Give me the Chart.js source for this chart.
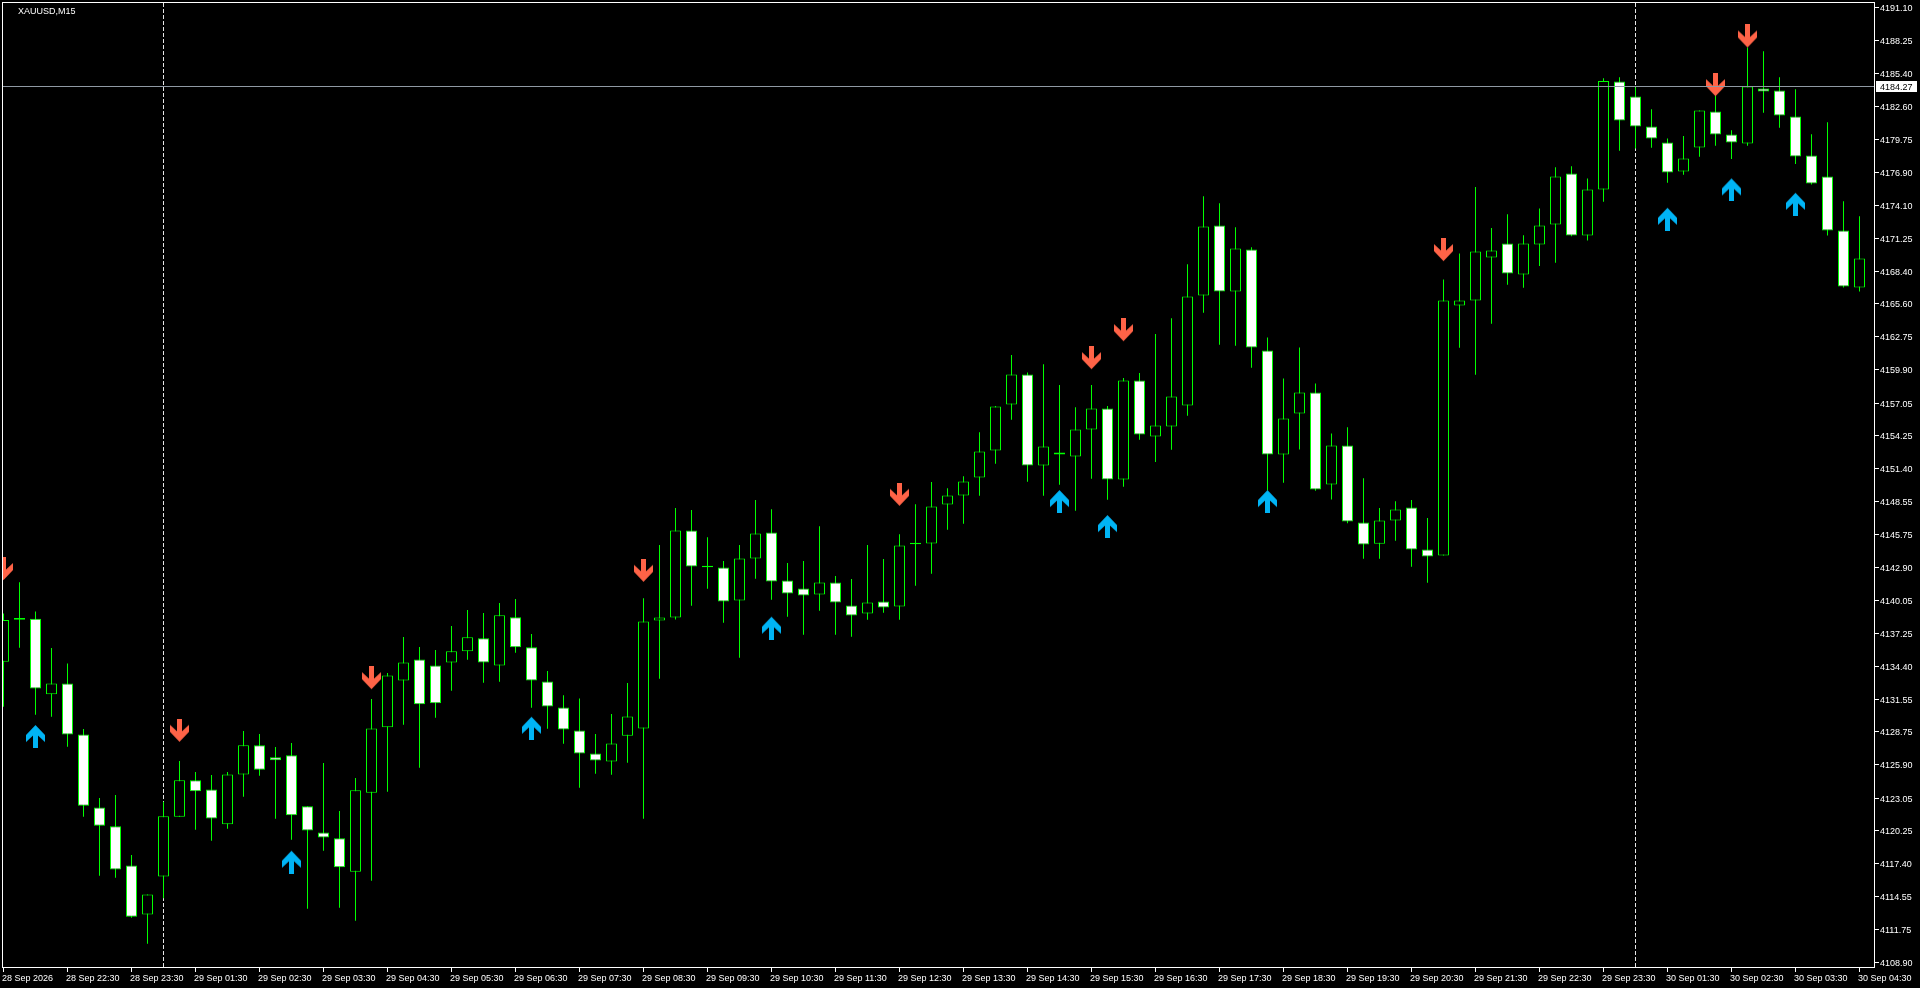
<!DOCTYPE html>
<html>
<head>
<meta charset="utf-8">
<title>XAUUSD,M15</title>
<script src="https://cdn.jsdelivr.net/npm/chart.js@4.4.1/dist/chart.umd.min.js"></script>
<style>
html, body { margin: 0; padding: 0; background: #000; overflow: hidden; }
canvas { display: block; }
</style>
</head>
<body>
<canvas id="chart" width="1920" height="988"></canvas>
<script>
// XAUUSD M15, candles (index 0 = leftmost, partly hidden)
const symbolTitle = "XAUUSD,M15";

const opens = [
  4134.79, 4138.40, 4138.49, 4131.98, 4132.92, 4128.53, 4122.25, 4120.62, 4117.26, 4113.04,
  4116.31, 4121.45, 4124.58, 4123.80, 4120.79, 4125.09, 4127.59, 4126.56, 4126.73, 4122.34,
  4120.10, 4119.59, 4116.72, 4123.52, 4129.14, 4133.18, 4134.99, 4134.47, 4134.73, 4135.68,
  4136.80, 4134.47, 4138.61, 4136.03, 4133.09, 4130.85, 4128.87, 4126.89, 4126.21, 4128.41,
  4129.05, 4138.34, 4138.60, 4146.09, 4143.05, 4142.90, 4140.06, 4143.68, 4145.92, 4141.78,
  4141.10, 4140.58, 4141.61, 4139.63, 4138.94, 4139.98, 4139.55, 4144.90, 4144.97, 4148.33,
  4149.10, 4150.65, 4152.97, 4156.93, 4159.52, 4151.68, 4152.80, 4152.46, 4154.78, 4156.59,
  4150.48, 4159.00, 4154.18, 4155.04, 4156.85, 4166.31, 4172.34, 4166.66, 4170.27, 4161.58,
  4152.63, 4156.16, 4157.96, 4150.05, 4153.40, 4146.77, 4144.94, 4146.94, 4148.06, 4144.45,
  4143.93, 4165.45, 4165.88, 4169.58, 4170.79, 4168.12, 4170.70, 4172.42, 4176.81, 4171.48,
  4175.43, 4184.73, 4183.44, 4180.86, 4179.48, 4176.98, 4179.05, 4182.15, 4180.17, 4179.39,
  4184.13, 4183.96, 4181.72, 4178.36, 4176.55, 4171.91, 4167.00
];
const highs = [
  4138.95, 4141.62, 4139.12, 4135.96, 4134.64, 4129.00, 4123.05, 4123.31, 4118.15, 4114.76,
  4122.74, 4126.24, 4125.29, 4125.03, 4125.29, 4128.82, 4128.56, 4127.45, 4127.79, 4122.34,
  4126.07, 4121.94, 4124.78, 4131.58, 4133.82, 4136.91, 4136.05, 4135.79, 4137.86, 4139.24,
  4138.98, 4139.84, 4140.18, 4137.17, 4133.98, 4131.91, 4131.63, 4128.56, 4130.28, 4132.95,
  4140.26, 4144.83, 4148.01, 4147.84, 4145.51, 4143.45, 4144.83, 4148.70, 4147.92, 4143.28,
  4143.45, 4146.46, 4142.16, 4141.90, 4144.83, 4143.62, 4145.77, 4148.35, 4150.25, 4149.73,
  4150.76, 4154.55, 4156.80, 4161.18, 4159.69, 4160.40, 4158.60, 4156.70, 4158.60, 4156.79,
  4159.20, 4159.63, 4162.99, 4164.36, 4169.01, 4174.86, 4174.26, 4172.19, 4170.47, 4162.70,
  4159.17, 4161.84, 4158.74, 4154.44, 4154.98, 4150.59, 4148.01, 4148.61, 4148.70, 4147.15,
  4167.69, 4169.93, 4175.64, 4172.11, 4173.31, 4171.50, 4173.80, 4177.36, 4177.44, 4176.38,
  4185.02, 4185.10, 4184.24, 4182.35, 4179.83, 4180.03, 4182.23, 4183.55, 4180.54, 4187.66,
  4187.34, 4185.10, 4184.07, 4180.20, 4181.23, 4174.43, 4173.14
];
const lows = [
  4130.92, 4135.99, 4130.23, 4130.05, 4127.47, 4121.45, 4116.37, 4116.20, 4112.75, 4110.52,
  4114.42, 4121.45, 4120.33, 4119.38, 4120.42, 4123.17, 4124.98, 4121.28, 4119.47, 4113.53,
  4118.52, 4113.62, 4112.50, 4115.94, 4123.60, 4129.37, 4125.67, 4129.97, 4132.29, 4134.96,
  4132.98, 4133.07, 4135.57, 4130.83, 4129.02, 4127.73, 4123.94, 4125.14, 4125.06, 4126.09,
  4121.27, 4133.32, 4138.43, 4139.60, 4141.07, 4138.14, 4135.13, 4141.93, 4140.12, 4138.66,
  4137.11, 4139.17, 4137.11, 4136.94, 4138.40, 4139.00, 4138.40, 4141.33, 4142.36, 4146.15,
  4146.66, 4149.07, 4151.83, 4155.61, 4150.28, 4149.07, 4150.02, 4147.78, 4150.53, 4148.73,
  4149.85, 4153.89, 4151.98, 4153.03, 4155.96, 4164.82, 4162.07, 4161.98, 4160.09, 4149.53,
  4150.19, 4153.06, 4149.50, 4148.75, 4146.70, 4143.65, 4143.65, 4145.20, 4142.96, 4141.58,
  4143.93, 4161.81, 4159.48, 4163.87, 4167.23, 4166.97, 4168.86, 4169.12, 4171.40, 4171.04,
  4174.37, 4178.76, 4178.96, 4179.02, 4176.01, 4176.70, 4178.25, 4179.19, 4178.07, 4179.19,
  4182.03, 4180.74, 4177.64, 4175.87, 4171.48, 4167.00, 4166.66
];
const closes = [
  4138.37, 4138.55, 4132.49, 4132.92, 4128.53, 4122.39, 4120.67, 4116.91, 4112.84, 4114.76,
  4121.48, 4124.58, 4123.63, 4121.30, 4125.09, 4127.59, 4125.49, 4126.30, 4121.57, 4120.27,
  4119.67, 4117.09, 4123.72, 4129.05, 4133.61, 4134.73, 4131.12, 4131.21, 4135.68, 4136.89,
  4134.73, 4138.78, 4136.03, 4133.18, 4130.94, 4128.96, 4126.89, 4126.29, 4127.75, 4130.08,
  4138.26, 4138.60, 4146.09, 4142.99, 4142.92, 4139.98, 4143.68, 4145.83, 4141.70, 4140.67,
  4140.49, 4141.61, 4139.89, 4138.77, 4139.89, 4139.46, 4144.80, 4145.02, 4148.15, 4149.10,
  4150.31, 4152.89, 4156.76, 4159.52, 4151.68, 4153.32, 4152.63, 4154.78, 4156.59, 4150.48,
  4159.00, 4154.35, 4155.12, 4157.62, 4166.23, 4172.25, 4166.66, 4170.36, 4161.84, 4152.63,
  4155.73, 4157.96, 4149.62, 4153.40, 4146.86, 4144.88, 4146.94, 4147.89, 4144.45, 4143.85,
  4165.88, 4165.88, 4170.10, 4170.18, 4168.20, 4170.79, 4172.34, 4176.55, 4171.48, 4175.43,
  4184.78, 4181.37, 4180.86, 4179.83, 4176.90, 4178.10, 4182.23, 4180.17, 4179.48, 4184.30,
  4183.87, 4181.80, 4178.28, 4175.95, 4171.91, 4167.09, 4169.50
];

// time axis: one label every 4 bars, starting at bar 0
const timeLabels = [
  "28 Sep 2026", "28 Sep 22:30", "28 Sep 23:30", "29 Sep 01:30", "29 Sep 02:30", "29 Sep 03:30",
  "29 Sep 04:30", "29 Sep 05:30", "29 Sep 06:30", "29 Sep 07:30", "29 Sep 08:30", "29 Sep 09:30",
  "29 Sep 10:30", "29 Sep 11:30", "29 Sep 12:30", "29 Sep 13:30", "29 Sep 14:30", "29 Sep 15:30",
  "29 Sep 16:30", "29 Sep 17:30", "29 Sep 18:30", "29 Sep 19:30", "29 Sep 20:30", "29 Sep 21:30",
  "29 Sep 22:30", "29 Sep 23:30", "30 Sep 01:30", "30 Sep 02:30", "30 Sep 03:30", "30 Sep 04:30"
];
const priceTicks = [
  "4191.10", "4188.25", "4185.40", "4182.60", "4179.75", "4176.90", "4174.10", "4171.25",
  "4168.40", "4165.60", "4162.75", "4159.90", "4157.05", "4154.25", "4151.40", "4148.55",
  "4145.75", "4142.90", "4140.05", "4137.25", "4134.40", "4131.55", "4128.75", "4125.90",
  "4123.05", "4120.25", "4117.40", "4114.55", "4111.75", "4108.90"
];

// day separators (bar index of first bar of a new day)
const daySeparators = [10, 102];
const bidPrice = 4184.27;

// signal arrows: bar index and price of the arrow tip
const sellIdx = [0, 11, 23, 40, 56, 68, 70, 90, 107, 109];
const sellPrice = [4141.82, 4127.90, 4132.43, 4141.67, 4148.21, 4159.97, 4162.38, 4169.27, 4183.47, 4187.66];
const buyIdx = [2, 18, 33, 48, 66, 69, 79, 104, 108, 112];
const buyPrice = [4129.34, 4118.52, 4130.05, 4138.66, 4149.56, 4147.41, 4149.56, 4173.86, 4176.39, 4175.15];

const GREEN = '#00ff00';
const FONT = "9px 'Liberation Sans', Arial, sans-serif";

function makeArrow(color, down) {
  const c = document.createElement('canvas');
  c.width = 19;
  c.height = 46;
  const g = c.getContext('2d');
  // tip sits at the canvas centre so the point's y is the tip price
  const pts = [[7, 0], [12, 0], [12, 12.5], [19, 6], [19, 13], [9.5, 23], [0, 13], [0, 6], [7, 12.5]];
  g.fillStyle = color;
  g.beginPath();
  pts.forEach(([x, y], k) => {
    const yy = down ? y : 46 - y;
    if (k === 0) g.moveTo(x, yy); else g.lineTo(x, yy);
  });
  g.closePath();
  g.fill();
  return c;
}

const idx = opens.map((_, i) => i);
const wickData = idx.map(i => ({ x: i, y: [lows[i], highs[i]] }));
const bodyData = idx.map(i => ({ x: i, y: [opens[i], closes[i]] }));
const bodyFill = idx.map(i => closes[i] < opens[i] ? '#ffffff' : '#000000');

const mt4Plugin = {
  id: 'mt4',
  beforeDraw(chart) {
    const ctx = chart.ctx;
    ctx.save();
    ctx.fillStyle = '#000';
    ctx.fillRect(0, 0, chart.width, chart.height);
    ctx.restore();
  },
  beforeDatasetsDraw(chart) {
    const { ctx, chartArea: a, scales: { x } } = chart;
    ctx.save();
    ctx.strokeStyle = '#e6e6e6';
    ctx.lineWidth = 1;
    ctx.setLineDash([4, 2]);
    daySeparators.forEach(i => {
      const px = Math.floor(x.getPixelForValue(i)) + 0.5;
      ctx.beginPath();
      ctx.moveTo(px, a.top);
      ctx.lineTo(px, a.bottom);
      ctx.stroke();
    });
    ctx.restore();
  },
  afterDraw(chart) {
    const { ctx, chartArea: a, scales: { x, y } } = chart;
    ctx.save();

    // bid line
    const by = Math.round(y.getPixelForValue(bidPrice) - 0.5);
    ctx.fillStyle = '#8f99a3';
    ctx.fillRect(a.left, by, a.right - a.left, 1);

    // frame
    ctx.strokeStyle = '#ffffff';
    ctx.lineWidth = 1;
    ctx.strokeRect(a.left - 0.5, a.top - 0.5, a.right - a.left + 1, a.bottom - a.top + 1);

    ctx.font = FONT;
    ctx.textBaseline = 'alphabetic';
    ctx.textAlign = 'left';

    // price axis
    priceTicks.forEach(t => {
      const row = Math.round(y.getPixelForValue(parseFloat(t)) - 0.5);
      ctx.fillStyle = '#ffffff';
      ctx.fillRect(a.right + 1, row, 4, 1);
      ctx.fillText(t, a.right + 6, row + 4);
    });

    // bid label
    ctx.fillStyle = '#ffffff';
    ctx.fillRect(a.right + 2, by - 5, 41, 11);
    ctx.fillStyle = '#000000';
    ctx.fillText(bidPrice.toFixed(2), a.right + 6, by + 4);

    // time axis
    ctx.fillStyle = '#ffffff';
    timeLabels.forEach((t, k) => {
      const px = Math.floor(x.getPixelForValue(k * 4));
      ctx.fillRect(px, a.bottom + 1, 1, 4);
      ctx.fillText(t, px - 1, a.bottom + 14);
    });

    // title
    ctx.fillText(symbolTitle, 18, 14);
    ctx.restore();
  }
};

new Chart(document.getElementById('chart'), {
  type: 'bar',
  data: {
    datasets: [
      {
        type: 'scatter',
        label: 'sell',
        data: sellIdx.map((i, k) => ({ x: i, y: sellPrice[k] })),
        pointStyle: makeArrow('#ff6347', true),
        pointRadius: 10,
        order: 0
      },
      {
        type: 'scatter',
        label: 'buy',
        data: buyIdx.map((i, k) => ({ x: i, y: buyPrice[k] })),
        pointStyle: makeArrow('#00b4f5', false),
        pointRadius: 10,
        order: 0
      },
      {
        label: 'body',
        data: bodyData,
        backgroundColor: bodyFill,
        borderColor: GREEN,
        borderWidth: 1,
        borderSkipped: false,
        barThickness: 11,
        grouped: false,
        inflateAmount: 0,
        order: 1
      },
      {
        label: 'wick',
        data: wickData,
        backgroundColor: GREEN,
        borderWidth: 0,
        barThickness: 1,
        grouped: false,
        inflateAmount: 0,
        order: 2
      }
    ]
  },
  options: {
    responsive: false,
    maintainAspectRatio: false,
    devicePixelRatio: 1,
    animation: false,
    events: [],
    layout: { autoPadding: false, padding: { left: 3, top: 3, right: 46, bottom: 21 } },
    plugins: { legend: { display: false }, tooltip: { enabled: false } },
    scales: {
      x: { type: 'linear', display: false, offset: false, min: -0.03125, max: 116.90625 },
      y: { type: 'linear', display: false, beginAtZero: false, min: 4108.513, max: 4191.487 }
    }
  },
  plugins: [mt4Plugin]
});
</script>
</body>
</html>
